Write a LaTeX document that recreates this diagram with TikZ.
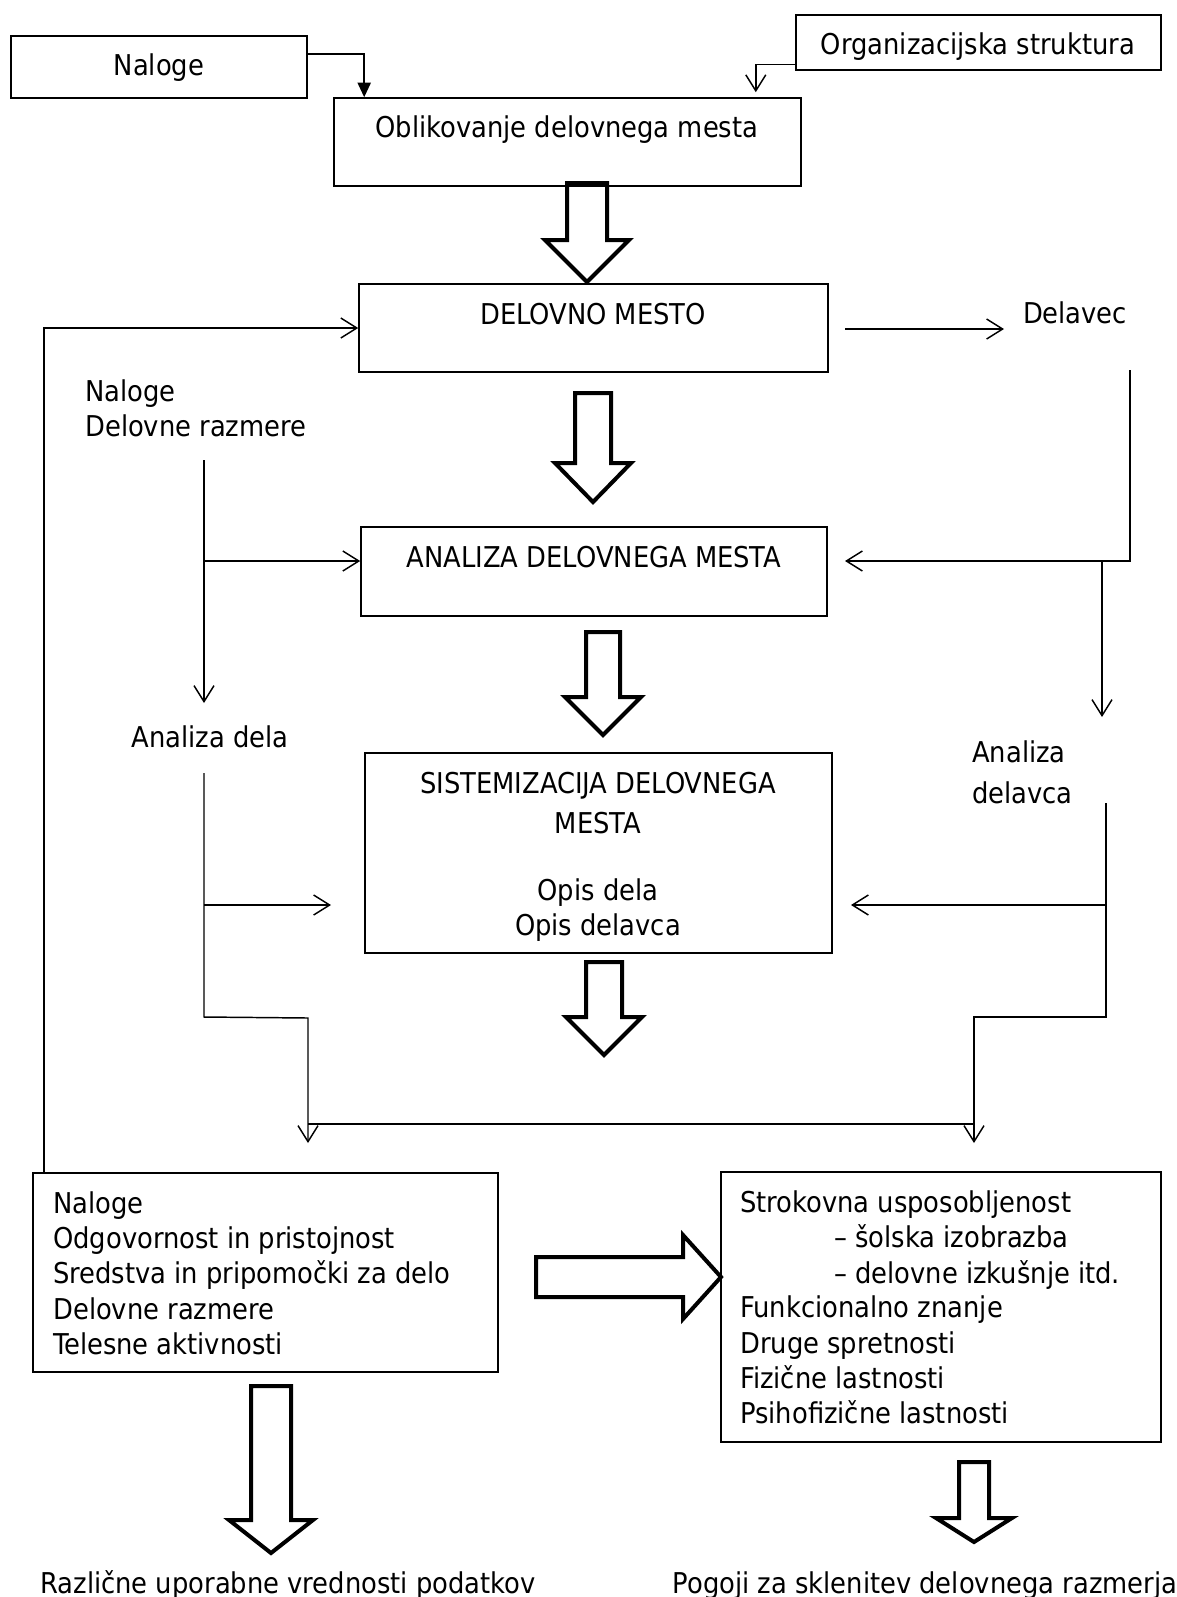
\documentclass[tikz,border=0pt]{standalone}
\usepackage{fontspec}
\setmainfont{DejaVu Sans Condensed}
\usetikzlibrary{arrows.meta,calc,fit}
\newcommand\bigdown[6]{%
  \draw[bigarrow] (#1-#3,#2) -- (#1+#3,#2) -- (#1+#3,#5) -- (#1+#4,#5) -- (#1,#6) -- (#1-#4,#5) -- (#1-#3,#5) -- cycle;}
\begin{document}
\begin{tikzpicture}[x=0.75pt,y=-0.75pt,
  box/.style={draw,line width=1.2pt,inner sep=0pt},
  txt/.style={inner sep=0pt,font=\fontsize{21.5}{26}\selectfont},
  conn/.style={line width=1.1pt},
  oarrow/.style={conn,-{Straight Barb[length=12pt,width=15pt]}},
  farrow/.style={conn,-{Triangle[length=11pt,width=10pt]}},
  bigarrow/.style={line width=3pt,line join=miter}]
\useasboundingbox[fill=white] (0,0) rectangle (1177,1597);
% boxes
\node[box,fit={(11,36) (307,98)}] (nal) {};
\node[box,fit={(796,15) (1161,70)}] (org) {};
\node[box,fit={(334,98) (801,186)}] (obl) {};
\node[box,fit={(359,284) (828,372)}] (dm) {};
\node[box,fit={(361,527) (827,616)}] (anl) {};
\node[box,fit={(365,753) (832,953)}] (sis) {};
\node[box,fit={(33,1173) (498,1372)}] (lb) {};
\node[box,fit={(721,1172) (1161,1442)}] (rb) {};
% texts
\node[txt,anchor=base] (tnal) at (159,75) {Naloge};
\node[txt,anchor=base] (torg) at (978,54) {Organizacijska struktura};
\node[txt,anchor=base] (tobl) at (567,137) {Oblikovanje delovnega mesta};
\node[txt,anchor=base] (tdm) at (593,324) {DELOVNO MESTO};
\node[txt,anchor=base] (tdel) at (1075,323) {Delavec};
\node[txt,anchor=base west] (tnl1) at (85,401) {Naloge};
\node[txt,anchor=base west] (tnl2) at (85,436) {Delovne razmere};
\node[txt,anchor=base] (tanl) at (594,567) {ANALIZA DELOVNEGA MESTA};
\node[txt,anchor=base] (tad) at (210,747) {Analiza dela};
\node[txt,anchor=base west] (tadv1) at (972,762) {Analiza};
\node[txt,anchor=base west] (tadv2) at (972,803) {delavca};
\node[txt,anchor=base] (ts1) at (598,793) {SISTEMIZACIJA DELOVNEGA};
\node[txt,anchor=base] (ts2) at (598,833) {MESTA};
\node[txt,anchor=base] (ts3) at (598,900) {Opis dela};
\node[txt,anchor=base] (ts4) at (598,935) {Opis delavca};
\node[txt,anchor=base west] (tl1) at (53,1213) {Naloge};
\node[txt,anchor=base west] (tl2) at (53,1248) {Odgovornost in pristojnost};
\node[txt,anchor=base west] (tl3) at (53,1283) {Sredstva in pripomočki za delo};
\node[txt,anchor=base west] (tl4) at (53,1319) {Delovne razmere};
\node[txt,anchor=base west] (tl5) at (53,1354) {Telesne aktivnosti};
\node[txt,anchor=base west] (tr1) at (740,1212) {Strokovna usposobljenost};
\node[txt,anchor=base west] (tr2) at (834,1247) {– šolska izobrazba};
\node[txt,anchor=base west] (tr3) at (834,1283) {– delovne izkušnje itd.};
\node[txt,anchor=base west] (tr4) at (740,1317) {Funkcionalno znanje};
\node[txt,anchor=base west] (tr5) at (740,1353) {Druge spretnosti};
\node[txt,anchor=base west] (tr6) at (740,1388) {Fizične lastnosti};
\node[txt,anchor=base west] (tr7) at (740,1423) {Psihofizične lastnosti};
\node[txt,anchor=base] (tb1) at (288,1593) {Različne uporabne vrednosti podatkov};
\node[txt,anchor=base] (tb2) at (925,1593) {Pogoji za sklenitev delovnega razmerja};
% coordinates for free ends / junctions
\coordinate (c1) at ($(nal.east)+(0,-13)$);
\coordinate (c2) at ($(org.west)+(0,22)$);
\coordinate (d1) at (845,329);
\coordinate (d2) at (1004,329);
\coordinate (r1) at (1130,370);
\coordinate (r2) at (1130,561);
\coordinate (r2e) at (845,561);
\coordinate (r3) at (1102,561);
\coordinate (r4) at (1102,717);
\coordinate (l1) at (204,460);
\coordinate (l2) at (204,561);
\coordinate (l3) at (204,703);
\coordinate (l4) at (204,773);
\coordinate (l5) at (204,1017);
\coordinate (l6) at (308,1018);
\coordinate (l7) at (308,1143);
\coordinate (l8) at (204,905);
\coordinate (l9) at (331,905);
\coordinate (l10) at (308,1124);
\coordinate (r5) at (1106,803);
\coordinate (r6) at (1106,1017);
\coordinate (r7) at (974,1017);
\coordinate (r8) at (974,1143);
\coordinate (r9) at (1106,905);
\coordinate (r10) at (851,905);
\coordinate (r11) at (974,1124);
% connectors
\draw[farrow] (c1) -| ($(obl.north west)+(31,0)$);
\draw[oarrow] (c2) -| ($(obl.north east)+(-46,-5)$);
\draw[oarrow] ($(lb.north west)+(12,0)$) |- (dm.west);
\draw[oarrow] (d1) -- (d2);
\draw[oarrow] (r1) -- (r2) -- (r2e);
\draw[oarrow] (r3) -- (r4);
\draw[oarrow] (l1) -- (l3);
\draw[oarrow] (l2) -- (anl.west |- l2);
\draw[oarrow] (l4) -- (l5) -- (l6) -- (l7);
\draw[oarrow] (l8) -- (l9);
\draw[oarrow] (r5) -- (r6) -- (r7) -- (r8);
\draw[oarrow] (r9) -- (r10);
\draw[conn] (l10) -- (r11);
% big hollow arrows
\bigdown{587}{183}{20}{42}{240}{282}
\bigdown{593}{393}{18}{38}{463}{502}
\bigdown{603}{632}{17}{38}{697}{735}
\bigdown{604}{962}{18}{38}{1017}{1055}
\bigdown{271}{1386}{20}{42}{1520}{1553}
\bigdown{974}{1462}{15}{38}{1518}{1542}
\draw[bigarrow] (536,1257) -- (683,1257) -- (683,1235) -- (721,1277) -- (683,1319) -- (683,1297) -- (536,1297) -- cycle;
\end{tikzpicture}
\end{document}
